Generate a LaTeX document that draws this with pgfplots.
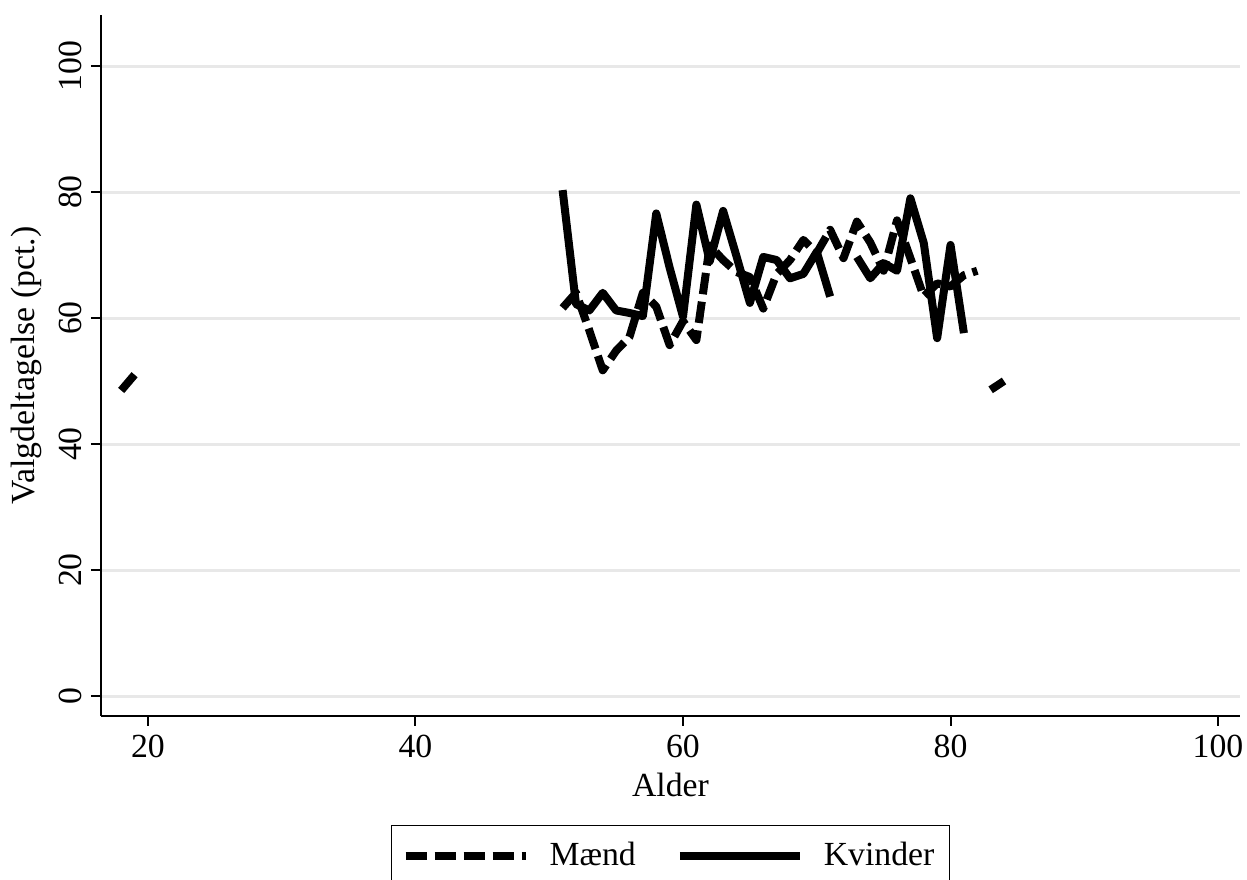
\documentclass[border=0pt]{standalone}
\usepackage{pgfplots}
\pgfplotsset{compat=1.18}
\usepackage{fontspec}
\setmainfont{Liberation Serif}

\pgfplotstableread{
x y
18 48.5
19 51
nan nan
51 61.6
52 64
53 58
54 51.7
55 54.8
56 57
57 64
58 61.8
59 55.7
60 59.5
61 56.5
62 71.5
63 69.2
64 67.3
65 66.5
66 61.5
67 67
68 69.2
69 72.4
70 70.3
71 74
72 69.5
73 75.3
74 72
75 67.5
76 75.5
77 69.5
78 63.4
79 65.5
80 65
81 66.8
82 67.5
nan nan
83 48.6
84 50
}\maend

\pgfplotstableread{
x y
51 80.3
52 62.2
53 61.2
54 64
55 61.2
56 60.8
57 60.3
58 76.6
59 68
60 60.2
61 78
62 69
63 77
64 69.8
65 62.4
66 69.7
67 69.2
68 66.3
69 67
70 70.5
71 63.4
72 nan
73 69.7
74 66.3
75 68.7
76 67.5
77 79
78 71.9
79 56.8
80 71.6
81 57.6
}\kvinder

\begin{document}
\begin{tikzpicture}[x=1pt,y=1pt]
\path[use as bounding box] (-40.4,-65.6) rectangle (458.4,286.4);
\begin{axis}[
  at={(0,0)}, anchor=south west,
  scale only axis, width=455.6pt, height=280.4pt,
  xmin=16.49, xmax=101.64, ymin=-3.17, ymax=108.1,
  axis x line*=bottom, axis y line*=left,
  axis line style={line width=0.8pt, -},
  xtick={20,40,60,80,100}, ytick={0,20,40,60,80,100},
  tick align=outside, major tick length=4pt,
  tick style={line width=0.8pt, black},
  ymajorgrids, grid style={line width=1.2pt, color=black!9},
  yticklabel style={rotate=90, anchor=south},
  font=\fontsize{13.5}{16}\selectfont,
  /pgf/number format/assume math mode=true,
  xlabel={Alder}, ylabel={Valgdeltagelse (pct.)},
  xlabel style={yshift=0.5pt},
  unbounded coords=jump,
  legend columns=2,
  legend style={at={(0.5,-0.1555)}, anchor=north, draw=black, line width=0.6pt,
    inner xsep=4pt, inner ysep=4.5pt,
    /tikz/every odd column/.append style={column sep=6pt},
    /tikz/every even column/.append style={column sep=14pt},
    font=\fontsize{13.5}{16}\selectfont},
  legend image code/.code={\draw[#1] (0pt,0pt) -- (48pt,0pt);},
]
\addplot[black, line width=3.2pt, dash pattern=on 8.6pt off 3pt, line join=round] table[x=x,y=y] {\maend};
\addlegendentry{Mænd}
\addplot[black, line width=3.2pt, line join=round] table[x=x,y=y] {\kvinder};
\addlegendentry{Kvinder}
\end{axis}
\end{tikzpicture}
\end{document}
